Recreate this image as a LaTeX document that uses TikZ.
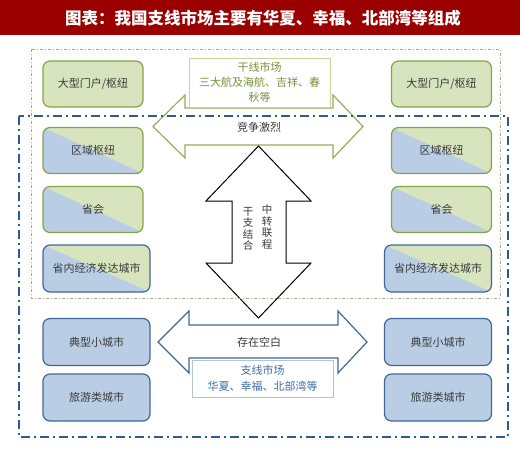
\documentclass[tikz,border=0pt]{standalone}
\usepackage{fontspec}
\newfontfamily\cjk{Noto Sans CJK SC}
\usepackage{tikz}

\definecolor{titlered}{HTML}{9B0000}
\definecolor{gfill}{HTML}{D7E4BD}
\definecolor{gline}{HTML}{86A34A}
\definecolor{bfill}{HTML}{B9CDE5}
\definecolor{bline}{HTML}{41679A}
\definecolor{txt}{HTML}{3A3A3A}
\definecolor{garrow}{HTML}{93AE5C}
\definecolor{gtag}{HTML}{C4D79B}
\definecolor{gtext}{HTML}{76923C}
\definecolor{btag}{HTML}{B3C4D8}
\definecolor{btext}{HTML}{3F6EA8}
\definecolor{gframe}{HTML}{A8A88A}
\definecolor{bframe}{HTML}{2F5A8E}

\begin{document}
\begin{tikzpicture}[x=1pt, y=-1pt,
  font=\cjk\fontsize{11}{13}\selectfont,
  cell/.style={draw, rounded corners=7pt, line width=1.2pt, text=txt,
               minimum width=100pt, minimum height=46pt, inner sep=2pt},
  gcell/.style={cell, draw=gline, fill=gfill},
  bcell/.style={cell, draw=bline, fill=bfill},
  wide/.style={minimum width=107pt, minimum height=47pt},
  halfblue/.style={path picture={\fill[bfill, sharp corners]
      (path picture bounding box.north west) --
      (path picture bounding box.south east) --
      (path picture bounding box.south west) -- cycle;}},
  tag/.style={draw, fill=white, line width=0.8pt, align=center,
              minimum width=141pt, inner sep=1pt},
  garr/.style={draw=garrow, line width=1.2pt, fill=white},
  barr/.style={draw=bline, line width=1.2pt, fill=white},
  karr/.style={draw=black, line width=1pt, fill=white},
  gdash/.style={draw=gframe, line width=0.9pt,
                dash pattern=on 3pt off 2pt on 1pt off 2pt},
  bdash/.style={draw=bframe, line width=2.2pt,
                dash pattern=on 9pt off 4pt on 2pt off 4pt}]
\useasboundingbox (0,0) rectangle (520,448);
% ---- title bar ----
\fill[titlered] (0,0) rectangle (520,35);
\node[text=white, font=\cjk\bfseries\fontsize{16.5}{18}\selectfont] (title)
  at (263,18) {图表：我国支线市场主要有华夏、幸福、北部湾等组成};
% ---- left column ----
\node[gcell] (lgate) at (93,84) {大型门户/枢纽};
\node[gcell, halfblue] (lhub) at (93,150.5) {区域枢纽};
\node[gcell, halfblue] (lcap) at (93,209.5) {省会};
\node[bcell, wide, fill=gfill, halfblue] (lrich) at (96.5,268.5) {省内经济发达城市};
\node[bcell, wide] (lsmall) at (96.5,342) {典型小城市};
\node[bcell, wide] (ltour) at (96.5,397.5) {旅游类城市};
% ---- right column ----
\node[gcell] (rgate) at (441.5,84) {大型门户/枢纽};
\node[gcell, halfblue] (rhub) at (441.5,150.5) {区域枢纽};
\node[gcell, halfblue] (rcap) at (441.5,209.5) {省会};
\node[bcell, wide, fill=gfill, halfblue] (rrich) at (438,268.5) {省内经济发达城市};
\node[bcell, wide] (rsmall) at (438,342) {典型小城市};
\node[bcell, wide] (rtour) at (438,397.5) {旅游类城市};
% ---- trunk market arrow ----
\draw[garr] (153,126.5) -- (185,95) -- (185,108) -- (333,108) -- (333,95)
  -- (363,126.5) -- (333,158) -- (333,145) -- (185,145) -- (185,158) -- cycle;
\node[text=txt] (fierce) at (259,127) {竞争激烈};
\node[tag, draw=gtag, text=gtext, minimum height=49pt,
      font=\cjk\fontsize{11}{15}\selectfont] (trunk)
  at (259.5,82.5) {干线市场\\三大航及海航、吉祥、春\\秋等};
% ---- trunk / feeder link ----
\draw[karr] (258.5,146) -- (311,201) -- (286,201) -- (286,263) -- (311,263)
  -- (258.5,318) -- (206,263) -- (232,263) -- (232,201) -- (206,201) -- cycle;
\node[text=txt, align=center, font=\cjk\fontsize{10.5}{11.5}\selectfont]
  (combine) at (248,229) {干\\支\\结\\合};
\node[text=txt, align=center, font=\cjk\fontsize{10.5}{11.5}\selectfont]
  (transfer) at (267,227) {中\\转\\联\\程};
% ---- feeder market arrow ----
\draw[barr] (158,342) -- (189,311) -- (189,325) -- (338,325) -- (338,311)
  -- (367,342) -- (338,373) -- (338,358) -- (189,358) -- (189,373) -- cycle;
\node[text=txt] (blank) at (259,342) {存在空白};
\node[tag, draw=btag, text=btext, minimum height=37pt,
      font=\cjk\fontsize{11}{16}\selectfont] (feeder)
  at (262.5,378.5) {支线市场\\华夏、幸福、北部湾等};
% ---- frames ----
\draw[gdash] (31,49) rectangle (500,298);
\draw[bdash] (19,116) rectangle (508,437);
\end{tikzpicture}
\end{document}
